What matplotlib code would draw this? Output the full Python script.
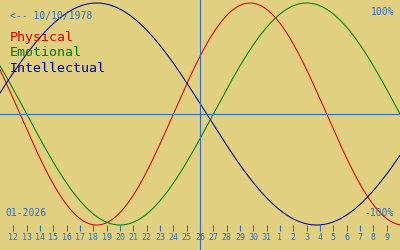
import datetime
import numpy as np
import matplotlib
matplotlib.use("Agg")
import matplotlib.pyplot as plt


# ====================================
# Data
# ====================================

birth_date = datetime.date(1978, 10, 10)
start_date = datetime.date(2026, 1, 11)
today_index = 15  # 26 Jan

cycle_names = ["Physical", "Emotional", "Intellectual"]
cycle_days = [23, 28, 33]
cycle_colors = ["#e00000", "#008000", "#000080"]

day_labels = [12, 13, 14, 15, 16, 17, 18, 19, 20, 21, 22, 23, 24, 25, 26,
              27, 28, 29, 30, 31, 1, 2, 3, 4, 5, 6, 7, 8, 9]


# ====================================
# Figure
# ====================================

bg = "#e0d080"
blue = "#3070c0"
mono = "DejaVu Sans Mono"

fig = plt.figure(figsize=(4, 2.5), dpi=100, facecolor=bg)
ax = fig.add_axes([0, 0, 1, 1], facecolor=bg)

n_days = 30
ax.set_xlim(0, n_days)
ax.set_ylim(-1.225, 1.027)
ax.axis("off")

t0 = (start_date - birth_date).days
x = np.linspace(0, n_days, 1201)

for name, period, color in zip(cycle_names, cycle_days, cycle_colors):
    ax.plot(
        x,
        np.sin(2 * np.pi * (t0 + x) / period),
        color=color,
        lw=0.75
    )

ax.axhline(0, color=blue, lw=0.8)
ax.axvline(today_index, color=blue, lw=0.8)


# ====================================
# Day ticks
# ====================================

tick_pos = np.arange(1, len(day_labels) + 1)
ax.vlines(tick_pos, -1.054, -1.0, color=blue, lw=0.8)

for pos, lab in zip(tick_pos, day_labels):
    ax.text(
        pos, -1.108, str(lab),
        color=blue, fontsize=6, family=mono,
        ha="center", va="center"
    )


# ====================================
# Labels
# ====================================

def px(xp, yp):
    return xp / 400, 1 - yp / 250


ax.text(*px(10, 16), "<-- 10/10/1978", transform=ax.transAxes,
        color=blue, fontsize=7, family=mono, ha="left", va="center")
ax.text(*px(394, 12), "100%", transform=ax.transAxes,
        color=blue, fontsize=7, family=mono, ha="right", va="center")
ax.text(*px(394, 213), "-100%", transform=ax.transAxes,
        color=blue, fontsize=7, family=mono, ha="right", va="center")
ax.text(*px(5, 213), "01-2026", transform=ax.transAxes,
        color=blue, fontsize=7, family=mono, ha="left", va="center")

for i, (name, color) in enumerate(zip(cycle_names, cycle_colors)):
    ax.text(*px(10, 38 + 15 * i), name, transform=ax.transAxes,
            color=color, fontsize=9.5, family=mono, ha="left", va="center")

fig.savefig("out.png", dpi=100, facecolor=bg)
